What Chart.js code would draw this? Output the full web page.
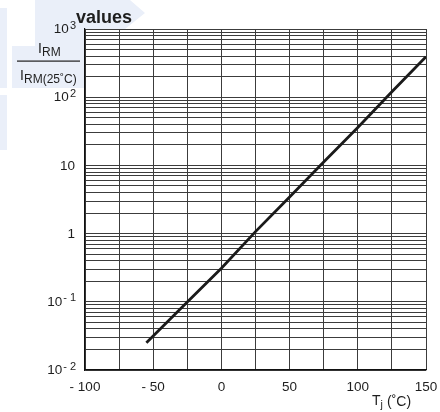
<!DOCTYPE html>
<html>
<head>
<meta charset="utf-8">
<script src="https://cdn.jsdelivr.net/npm/chart.js@4.4.1/dist/chart.umd.min.js"></script>
<style>
  html, body { margin: 0; padding: 0; background: #fff; }
  #wrap { width: 440px; height: 412px; }
</style>
</head>
<body>
<div id="wrap"><canvas id="irmChart" width="440" height="412"></canvas></div>
<script>
// junction temperature (degC) and I_RM / I_RM(25C)
var temps = [-55, -25, 0, 25, 50, 75, 100, 125, 150];
var ratio = [0.025, 0.099, 0.31, 1.07, 3.45, 11.2, 36, 120, 393];

// tick labels
var xTickValues = [-100, -50, 0, 50, 100, 150];
var xTickLabels = ["- 100", "- 50", "0", "50", "100", "150"];
var yTickValues = [0.01, 0.1, 1, 10, 100, 1000];
var yTickBase = ["10", "10", "1", "10", "10", "10"];
var yTickSup = ["- 2", "- 1", "", "", "2", "3"];

var FONT = "'Liberation Sans', Arial, sans-serif";
var INK = "#1e1e1e";

// pale logo shapes behind the chart + white plot area
var backdrop = {
    id: "backdrop",
    beforeDraw: function (chart) {
        var c = chart.ctx, a = chart.chartArea;
        c.save();
        c.fillStyle = "#eaeff9";
        c.beginPath();
        c.moveTo(35, 0); c.lineTo(130, 0); c.lineTo(145, 13); c.lineTo(104, 46);
        c.lineTo(85, 46); c.lineTo(85, 88); c.lineTo(12, 88); c.lineTo(12, 46);
        c.lineTo(35, 46);
        c.closePath();
        c.fill();
        c.fillRect(0, 8, 7, 80);
        c.fillRect(0, 95, 7, 55);
        c.fillStyle = "#fff";
        c.fillRect(a.left, a.top, a.right - a.left, a.bottom - a.top);
        c.restore();
    }
};

// y labels with superscripts, axis titles and heading
var texts = {
    id: "texts",
    afterDraw: function (chart) {
        var c = chart.ctx, ys = chart.scales.y;
        c.save();
        c.fillStyle = INK;
        c.textBaseline = "middle";
        c.textAlign = "left";
        var right = 76;
        for (var i = 0; i < yTickValues.length; i++) {
            var py = ys.getPixelForValue(yTickValues[i]);
            c.font = "13.5px " + FONT;
            var wb = c.measureText(yTickBase[i]).width;
            c.font = "11px " + FONT;
            var ws = yTickSup[i] ? c.measureText(yTickSup[i]).width + 1 : 0;
            var x0 = right - ws - wb;
            if (!yTickSup[i]) x0 -= 1;
            c.font = "13.5px " + FONT;
            c.fillText(yTickBase[i], x0, py + 0.5);
            if (yTickSup[i]) {
                c.font = "11px " + FONT;
                c.fillText(yTickSup[i], x0 + wb + 1, py - 3.5);
            }
        }

        c.textBaseline = "alphabetic";
        // numerator I_RM
        c.font = "14px " + FONT;
        c.fillText("I", 38, 53);
        c.font = "12px " + FONT;
        c.fillText("RM", 42, 56);
        // fraction bar
        c.fillRect(17, 60.5, 63, 1.2);
        // denominator I_RM(25 degC)
        c.font = "14px " + FONT;
        c.fillText("I", 20, 80);
        c.font = "12px " + FONT;
        c.fillText("RM(25\u02DAC)", 24, 82.5);

        // x title T_j (degC)
        c.font = "14px " + FONT;
        c.fillText("T", 372, 405);
        c.font = "10.5px " + FONT;
        c.fillText("j", 380.5, 408);
        c.font = "14px " + FONT;
        c.fillText("(\u02DAC)", 387, 406);

        // heading
        c.font = "bold 18px " + FONT;
        c.fillText("values", 76, 23);
        c.restore();
    }
};

function noEdgePadding(s) {
    s.paddingLeft = 0;
    s.paddingRight = 0;
    s.paddingTop = 0;
    s.paddingBottom = 0;
}

var irmChart = new Chart("irmChart", {
    type: "line",
    data: {
        datasets: [{
            data: temps.map(function (t, i) { return { x: t, y: ratio[i] }; }),
            borderColor: "#1a1a1a",
            borderWidth: 2.8,
            pointRadius: 0,
            tension: 0,
            fill: false
        }]
    },
    options: {
        responsive: false,
        animation: false,
        events: [],
        layout: { padding: { left: 0, right: 14, top: 29, bottom: 0 } },
        plugins: {
            legend: { display: false },
            tooltip: { enabled: false }
        },
        scales: {
            x: {
                type: "linear",
                min: -100,
                max: 150,
                afterFit: function (s) { s.height = 42; noEdgePadding(s); },
                ticks: {
                    stepSize: 25,
                    autoSkip: false,
                    maxRotation: 0,
                    padding: 9,
                    color: INK,
                    font: { family: FONT, size: 13.5 },
                    callback: function (v) {
                        var k = xTickValues.indexOf(v);
                        return k < 0 ? "" : xTickLabels[k];
                    }
                },
                grid: { color: "#3c3c3c", lineWidth: 1, drawTicks: false },
                border: { color: "#111", width: 1.2 }
            },
            y: {
                type: "logarithmic",
                min: 0.01,
                max: 1000,
                afterFit: function (s) { s.width = 85; noEdgePadding(s); },
                afterBuildTicks: function (s) {
                    var t = [];
                    for (var e = -2; e < 3; e++) {
                        for (var m = 1; m < 10; m++) t.push({ value: m * Math.pow(10, e) });
                    }
                    t.push({ value: 1000 });
                    s.ticks = t;
                },
                ticks: { display: false, autoSkip: false },
                grid: { color: "#3c3c3c", lineWidth: 1, drawTicks: false },
                border: { color: "#111", width: 1.2 }
            }
        }
    },
    plugins: [backdrop, texts]
});
</script>
</body>
</html>
